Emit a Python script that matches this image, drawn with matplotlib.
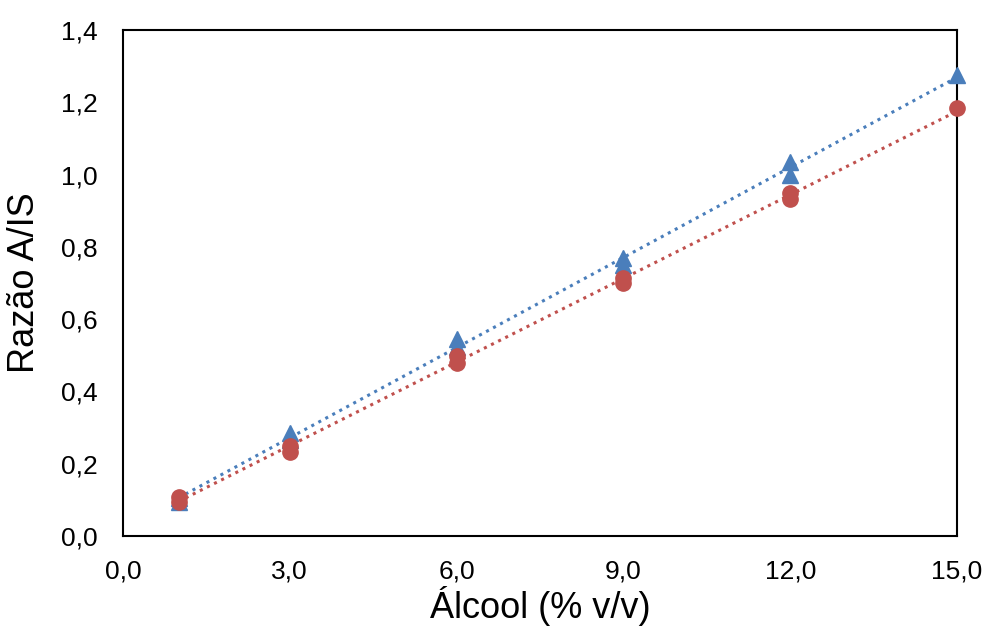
import numpy as np
from matplotlib import pyplot as plt
from matplotlib.ticker import FuncFormatter

plt.rcParams['font.family'] = ['Liberation Sans', 'DejaVu Sans']

# concentration levels (% v/v)
x_tri = [1, 1, 3, 3, 6, 6, 9, 9, 12, 12, 15]
y_tri = [0.105, 0.095, 0.285, 0.265, 0.545, 0.523, 0.770, 0.750, 1.035, 1.000, 1.275]

x_circ = [1, 1, 3, 3, 6, 6, 9, 9, 12, 12, 15]
y_circ = [0.108, 0.095, 0.250, 0.233, 0.497, 0.480, 0.714, 0.700, 0.948, 0.932, 1.185]

blue = "#4A7EBB"
red = "#C0504D"

fig = plt.figure(figsize=(9.91, 6.33), dpi=100)
ax = fig.add_axes([0.1241, 0.1532, 0.8416, 0.7994])

# trendlines (least squares, like excel's linear trendline)
xs = np.array([1, 15])
a, b = np.polyfit(x_tri, y_tri, 1)
ax.plot(xs, a * xs + b, color=blue, linestyle=(0, (1, 1.6)), linewidth=2.2, zorder=2)
a, b = np.polyfit(x_circ, y_circ, 1)
ax.plot(xs, a * xs + b, color=red, linestyle=(0, (1, 1.6)), linewidth=2.2, zorder=2)

ax.plot(x_tri, y_tri, linestyle="none", marker="^", markersize=11.5, color=blue,
        zorder=3, clip_on=False)
ax.plot(x_circ, y_circ, linestyle="none", marker="o", markersize=11, color=red,
        zorder=4, clip_on=False)

ax.set_xlim(0, 15)
ax.set_ylim(0, 1.4)
ax.set_xticks([0, 3, 6, 9, 12, 15])
ax.set_yticks(np.arange(0, 1.41, 0.2))
fmt = FuncFormatter(lambda v, p: ("%.1f" % v).replace(".", ","))
ax.xaxis.set_major_formatter(fmt)
ax.yaxis.set_major_formatter(fmt)
ax.tick_params(axis="y", length=0, labelsize=19, pad=18)
ax.tick_params(axis="x", length=0, labelsize=19, pad=17)
for s in ax.spines.values():
    s.set_linewidth(1.5)
    s.set_color("black")

ax.set_xlabel("Álcool (% v/v)", fontsize=26, labelpad=2)
ax.set_ylabel("Razão A/IS", fontsize=26, labelpad=14)

fig.savefig("out.png", dpi=100)
